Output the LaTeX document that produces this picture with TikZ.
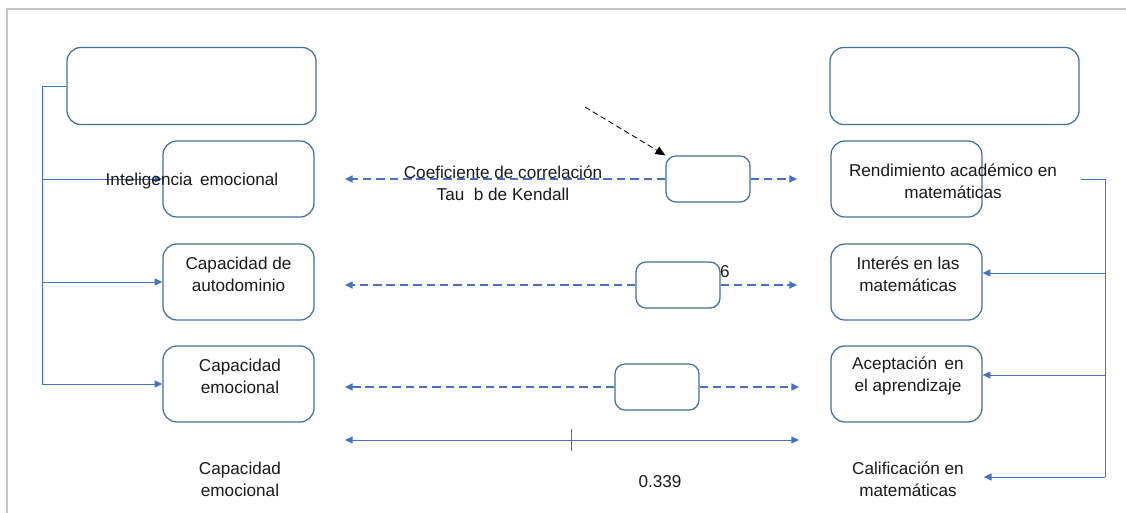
\documentclass[tikz,border=0pt]{standalone}
\usepackage{fontspec}
\setmainfont{Liberation Sans}
\usetikzlibrary{arrows.meta}
\definecolor{BoxBlue}{HTML}{41719C}
\definecolor{LineBlue}{HTML}{4472C4}
\definecolor{FrameGray}{HTML}{C8C8C8}
\definecolor{TextDark}{HTML}{1A1A1A}

\begin{document}
\begin{tikzpicture}[x=0.025cm, y=-0.025cm,
  font=\fontsize{12.2}{15.6}\selectfont,
  box/.style={draw=BoxBlue, line width=0.9pt, rounded corners=0.35cm,
    minimum width=3.775cm, minimum height=1.9cm},
  hdr/.style={box, minimum width=6.225cm, minimum height=1.925cm},
  val/.style={draw=BoxBlue, line width=0.9pt, rounded corners=0.25cm,
    minimum width=2.1cm, minimum height=1.15cm, fill=white},
  txt/.style={align=center, text=TextDark, inner sep=0pt},
  side/.style={txt, minimum width=3.775cm},
  link/.style={draw=LineBlue, line width=0.7pt},
  dline/.style={draw=LineBlue, line width=1.4pt, dash pattern=on 6pt off 3.5pt},
  fwd/.style={-{Triangle[length=5.5pt,width=5pt]}},
  twoway/.style={{Triangle[length=5.5pt,width=5pt]}-{Triangle[length=5.5pt,width=5pt]}}]
\useasboundingbox (0,0) rectangle (1126,513);

% Frame
\draw[FrameGray, line width=1.2pt] (7,513) -- (7,9) -- (1126,9);

% Left column
\node[hdr] (hdrL) at (191.5,86) {};
\node[box] (ie) at (238.5,179) {};
\node[box] (ca) at (238.5,282) {};
\node[box] (ce) at (238.5,384) {};

% Right column
\node[hdr] (hdrR) at (954.5,86) {};
\node[box] (ra) at (906.5,179) {};
\node[box] (im) at (906.5,282) {};
\node[box] (aa) at (906.5,384) {};

% Value boxes
\node[val] (v1) at (708,179) {};
\node[val] (v2) at (678,285) {};
\node[val] (v3) at (657,387) {};

% Left bracket
\coordinate (lt) at (42,86);
\coordinate (lb) at (42,384);
\draw[link] (hdrL.west) -- (lt) -- (lb);
\draw[link, fwd] (lt |- ie.west) -- (ie.west);
\draw[link, fwd] (lt |- ca.west) -- (ca.west);
\draw[link, fwd] (lb) -- (ce.west);

% Right bracket
\coordinate (rs) at (1081,179);
\coordinate (rt) at (1105,179);
\coordinate (rb) at (1105,477);
\draw[link] (rs) -- (rt) -- (rb);
\draw[link, fwd] (rt |- 0,273) -- (im.east |- 0,273);
\draw[link, fwd] (rt |- 0,375) -- (aa.east |- 0,375);

% Dashed rows
\coordinate (r1l) at (345,179);
\coordinate (r1r) at (797,179);
\coordinate (r2l) at (345,285);
\coordinate (r2r) at (797,285);
\coordinate (r3l) at (345,387);
\coordinate (r3r) at (799,387);
\draw[dline, fwd] (v1.west) -- (r1l);
\draw[dline, fwd] (v1.east) -- (r1r);
\draw[dline, fwd] (v2.west) -- (r2l);
\draw[dline, fwd] (v2.east) -- (r2r);
\draw[dline, fwd] (v3.west) -- (r3l);
\draw[dline, fwd] (v3.east) -- (r3r);

% Scale line
\coordinate (sl) at (345,440);
\coordinate (sr) at (799,440);
\coordinate (st) at (571,429);
\coordinate (sb) at (571,451);
\draw[link, twoway] (sl) -- (sr);
\draw[link] (st) -- (sb);

% Pointer
\coordinate (cue) at (585,107);
\draw[black, line width=0.6pt, dash pattern=on 4pt off 2.5pt,
  -{Triangle[length=7pt,width=6pt]}] (cue) -- (v1.north west);

% Labels
\node[txt] (ieT) at (192,181) {Inteligencia\, emocional};
\node[txt] (caT) at (238.5,274) {Capacidad de\\autodominio};
\node[txt] (ceT) at (240,376) {Capacidad\\emocional};
\node[side] (ceB) at (240,479) {Capacidad\\emocional};
\node[txt] (raT) at (953,181.5) {Rendimiento acad\'emico en\\matem\'aticas};
\node[txt] (imT) at (908,274) {Inter\'es en las\\matem\'aticas};
\node[txt] (aaT) at (908,376) {Aceptaci\'on\, en\\el aprendizaje};
\node[side] (cal) at (908,479) {Calificaci\'on en\\matem\'aticas};
\node[txt] (coef) at (503,183.5) {Coeficiente de correlaci\'on\\Tau\ \ b de Kendall};
\node[txt] (six) at (725,272) {6};
\node[txt] (val) at (660,482) {0.339};
\draw[link, fwd] (rb) -- (cal.east |- rb);

\end{tikzpicture}
\end{document}
